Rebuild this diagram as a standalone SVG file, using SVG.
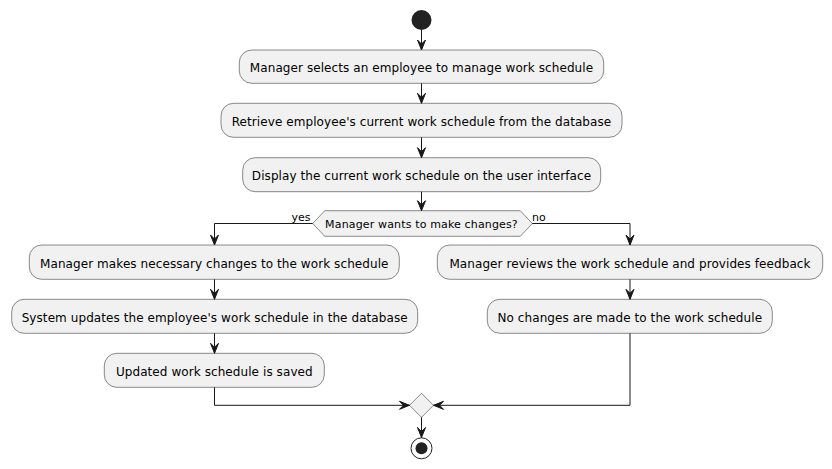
<svg xmlns="http://www.w3.org/2000/svg" width="832" height="469" viewBox="0 0 832 469">
<style>
.box{fill:#F1F1F1;stroke:#181818;stroke-width:0.5}
.t{font-family:"DejaVu Sans",sans-serif;font-size:12px;letter-spacing:0.08px;fill:#000;text-anchor:middle}
.s{font-family:"DejaVu Sans",sans-serif;font-size:11px;fill:#000}
.ln{fill:none;stroke:#181818;stroke-width:1}
.ah{fill:#181818;stroke:#181818;stroke-width:1}
</style>
<rect width="832" height="469" fill="#FFFFFF"/>
<g id="start"><circle cx="421.5" cy="20" r="10" fill="#222222"/></g>
<g id="n1"><rect class="box" x="239.3" y="50" width="364.4" height="33.3" rx="12.5"/><text class="t" x="421.5" y="72">Manager selects an employee to manage work schedule</text></g>
<g id="n2"><rect class="box" x="221" y="103.3" width="401" height="34" rx="12.5"/><text class="t" x="421.5" y="125.5">Retrieve employee's current work schedule from the database</text></g>
<g id="n3"><rect class="box" x="242.7" y="157.7" width="358" height="34" rx="12.5"/><text class="t" x="421.5" y="180">Display the current work schedule on the user interface</text></g>
<g id="d1"><polygon class="box" points="312.7,223.5 324.7,210.7 520.3,210.7 532.3,223.5 520.3,236.3 324.7,236.3"/><text class="s" x="421.5" y="228.3" text-anchor="middle" letter-spacing="0.15">Manager wants to make changes?</text></g>
<g id="l1"><rect class="box" x="29.3" y="245" width="370" height="34.3" rx="12.5"/><text class="t" x="214.3" y="267.5">Manager makes necessary changes to the work schedule</text></g>
<g id="l2"><rect class="box" x="11.7" y="299.3" width="406" height="34" rx="12.5"/><text class="t" x="214.7" y="321.5">System updates the employee's work schedule in the database</text></g>
<g id="l3"><rect class="box" x="104.3" y="353.3" width="220" height="34" rx="12.5"/><text class="t" x="214.3" y="375.5">Updated work schedule is saved</text></g>
<g id="r1"><rect class="box" x="437.3" y="245" width="385.4" height="34.3" rx="12.5"/><text class="t" x="630" y="267.5">Manager reviews the work schedule and provides feedback</text></g>
<g id="r2"><rect class="box" x="487.3" y="299.3" width="285" height="34" rx="12.5"/><text class="t" x="629.8" y="321.5">No changes are made to the work schedule</text></g>
<g id="merge"><polygon class="box" points="421.5,393.3 433.5,405.3 421.5,417.3 409.5,405.3"/></g>
<g id="end"><circle cx="421.5" cy="448.3" r="10.5" fill="none" stroke="#222222" stroke-width="1"/><circle cx="421.5" cy="448.3" r="6" fill="#222222"/></g>
<g id="connectors">
<path class="ln" d="M421.5,30 V50"/><polygon class="ah" points="417.5,40 421.5,50 425.5,40 421.5,44"/>
<path class="ln" d="M421.5,83.3 V103.3"/><polygon class="ah" points="417.5,93.3 421.5,103.3 425.5,93.3 421.5,97.3"/>
<path class="ln" d="M421.5,137.3 V157.7"/><polygon class="ah" points="417.5,147.7 421.5,157.7 425.5,147.7 421.5,151.7"/>
<path class="ln" d="M421.5,191.7 V210.7"/><polygon class="ah" points="417.5,200.7 421.5,210.7 425.5,200.7 421.5,204.7"/>
<path class="ln" d="M312.7,223.5 H214.5 V245"/><polygon class="ah" points="210.5,235 214.5,245 218.5,235 214.5,239"/>
<path class="ln" d="M532.3,223.5 H630 V245"/><polygon class="ah" points="626,235 630,245 634,235 630,239"/>
<path class="ln" d="M214.5,279.3 V299.3"/><polygon class="ah" points="210.5,289.3 214.5,299.3 218.5,289.3 214.5,293.3"/>
<path class="ln" d="M214.5,333.3 V353.3"/><polygon class="ah" points="210.5,343.3 214.5,353.3 218.5,343.3 214.5,347.3"/>
<path class="ln" d="M630,279.3 V299.3"/><polygon class="ah" points="626,289.3 630,299.3 634,289.3 630,293.3"/>
<path class="ln" d="M214.5,387.3 V405.3 H409.5"/><polygon class="ah" points="399.5,401.3 409.5,405.3 399.5,409.3 403.5,405.3"/>
<path class="ln" d="M630,333.3 V405.3 H433.5"/><polygon class="ah" points="443.5,401.3 433.5,405.3 443.5,409.3 439.5,405.3"/>
<path class="ln" d="M421.5,417.3 V437.5"/><polygon class="ah" points="417.5,427.5 421.5,437.5 425.5,427.5 421.5,431.5"/>
<text class="s" x="291.5" y="220.5">yes</text>
<text class="s" x="532" y="220.5">no</text>
</g>
</svg>
